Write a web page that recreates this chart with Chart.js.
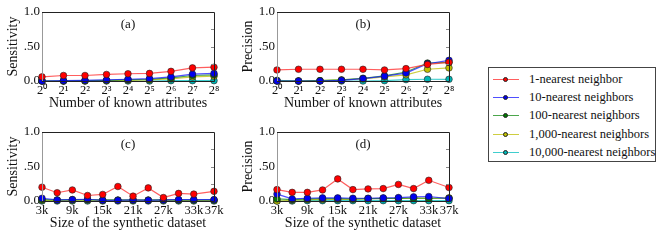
<!DOCTYPE html>
<html>
<head>
<meta charset="utf-8">
<script src="https://cdn.jsdelivr.net/npm/chart.js@4"></script>
<style>
    body { margin: 0; background: #fff; width: 664px; height: 252px; position: relative; overflow: hidden; font-family: "Liberation Serif", serif; }
    .panel { position: absolute; width: 230px; height: 126px; }
    #legend { position: absolute; left: 488px; top: 67px; width: 168px; height: 95px; border: 1px solid #444; box-sizing: border-box; }
    .row { position: absolute; left: 0; height: 18px; width: 166px; }
    .row .ln { position: absolute; left: 4px; top: 8px; width: 26px; height: 1px; }
    .row .dot { position: absolute; left: 14px; top: 6px; width: 5px; height: 5px; border-radius: 50%; box-sizing: border-box; border: 0.6px solid #222; }
    .row .tx { position: absolute; left: 40px; top: 1px; font-size: 12.5px; color: #111; white-space: nowrap; }
</style>
</head>
<body>
<canvas id="chartA" class="panel" style="left:0;top:0"></canvas>
<canvas id="chartB" class="panel" style="left:235px;top:0"></canvas>
<canvas id="chartC" class="panel" style="left:0;top:120px"></canvas>
<canvas id="chartD" class="panel" style="left:235px;top:120px"></canvas>
<div id="legend"></div>

<script>
// x values
const exponents = [0, 1, 2, 3, 4, 5, 6, 7, 8];
const expLabels = ['2⁰', '2¹', '2²', '2³', '2⁴', '2⁵', '2⁶', '2⁷', '2⁸'];
const sizes = [3, 6, 9, 12, 15, 18, 21, 24, 27, 30, 33, 37];
const sizeTicks = [3, 9, 15, 21, 27, 33, 37];
const yTicks = [0, 0.25, 0.5, 0.75, 1];
const yLabels = ['0.0', '.25', '.50', '.75', '1.0'];

// series
const seriesNames = ['1-nearest neighbor', '10-nearest neighbors', '100-nearest neighbors', '1,000-nearest neighbors', '10,000-nearest neighbors'];
const lineColors = ['rgba(255,40,40,0.75)', 'rgba(20,20,255,0.75)', 'rgba(0,128,0,0.7)', 'rgba(190,190,0,0.75)', 'rgba(0,190,190,0.75)'];
const dotColors = ['#ff0000', '#0000ee', '#007a00', '#bfbf00', '#00b5b5'];

// (a) sensitivity vs known attributes
const sensAttr1 = [0.06, 0.08, 0.08, 0.095, 0.105, 0.11, 0.14, 0.19, 0.20];
const sensAttr10 = [0.0, 0.005, 0.01, 0.015, 0.025, 0.035, 0.06, 0.10, 0.11];
const sensAttr100 = [0.0, 0.0, 0.005, 0.01, 0.02, 0.025, 0.045, 0.08, 0.09];
const sensAttr1000 = [0.0, 0.0, 0.0, 0.005, 0.01, 0.015, 0.03, 0.06, 0.07];
const sensAttr10000 = [0.0, 0.0, 0.0, 0.0, 0.0, 0.0, 0.005, 0.005, 0.005];

// (b) precision vs known attributes
const precAttr1 = [0.16, 0.17, 0.17, 0.17, 0.17, 0.16, 0.18, 0.24, 0.27];
const precAttr10 = [0.0, 0.0, 0.0, 0.01, 0.035, 0.07, 0.115, 0.25, 0.30];
const precAttr100 = [0.0, 0.0, 0.005, 0.015, 0.04, 0.075, 0.13, 0.26, 0.27];
const precAttr1000 = [0.0, 0.0, 0.005, 0.015, 0.03, 0.06, 0.09, 0.17, 0.19];
const precAttr10000 = [0.01, 0.0, 0.0, 0.0, 0.0, 0.005, 0.02, 0.025, 0.025];

// (c) sensitivity vs dataset size
const sensSize1 = [0.20, 0.12, 0.16, 0.08, 0.095, 0.21, 0.07, 0.19, 0.05, 0.11, 0.10, 0.14];
const sensSize10 = [0.04, 0.015, 0.02, 0.025, 0.01, 0.01, 0.015, 0.01, 0.015, 0.02, 0.02, 0.02];
const sensSize100 = [0.02, 0.015, 0.02, 0.02, 0.015, 0.015, 0.015, 0.015, 0.015, 0.015, 0.015, 0.015];
const sensSize1000 = [0.01, 0.01, 0.01, 0.012, 0.01, 0.01, 0.01, 0.01, 0.012, 0.01, 0.01, 0.01];
const sensSize10000 = [0.0, 0.0, 0.0, 0.0, 0.0, 0.0, 0.0, 0.0, 0.0, 0.0, 0.0, 0.0];

// (d) precision vs dataset size
const precSize1 = [0.165, 0.125, 0.125, 0.16, 0.32, 0.165, 0.175, 0.18, 0.24, 0.18, 0.30, 0.195];
const precSize10 = [0.10, 0.03, 0.04, 0.045, 0.045, 0.04, 0.04, 0.045, 0.05, 0.06, 0.065, 0.035];
const precSize100 = [0.03, 0.02, 0.03, 0.035, 0.035, 0.03, 0.035, 0.035, 0.04, 0.04, 0.04, 0.04];
const precSize1000 = [0.0, 0.01, 0.02, 0.02, 0.025, 0.025, 0.035, 0.04, 0.035, 0.045, 0.04, 0.045];
const precSize10000 = [0.0, 0.0, 0.005, 0.005, 0.005, 0.005, 0.005, 0.005, 0.005, 0.005, 0.005, 0.005];

const FONT = '"Liberation Serif", "Times New Roman", serif';

// frame, inward ticks and panel tag
const framePlugin = {
    id: 'frame',
    afterDatasetsDraw(chart, args, opts) {
        const { ctx, chartArea: a, scales } = chart;
        ctx.save();
        ctx.lineWidth = 1;
        ctx.strokeStyle = '#999';
        ctx.beginPath();
        ctx.moveTo(Math.round(a.left) + 0.5, a.top);
        ctx.lineTo(Math.round(a.left) + 0.5, a.bottom);
        ctx.stroke();
        ctx.strokeStyle = '#222';
        ctx.beginPath();
        ctx.moveTo(a.left, Math.round(a.top) + 0.5);
        ctx.lineTo(Math.round(a.right) + 0.5, Math.round(a.top) + 0.5);
        ctx.lineTo(Math.round(a.right) + 0.5, Math.round(a.bottom) + 0.5);
        ctx.lineTo(a.left, Math.round(a.bottom) + 0.5);
        ctx.stroke();
        // little inward ticks on the right
        ctx.strokeStyle = '#888';
        yTicks.slice(1, 4).forEach(v => {
            const y = Math.round(scales.y.getPixelForValue(v)) + 0.5;
            ctx.beginPath();
            ctx.moveTo(a.right - 3, y);
            ctx.lineTo(a.right, y);
            ctx.stroke();
        });
        ctx.fillStyle = '#111';
        ctx.font = '13px ' + FONT;
        ctx.textAlign = 'center';
        ctx.textBaseline = 'middle';
        ctx.fillText(opts.tag, (a.left + a.right) / 2, a.top + 13);
        ctx.restore();
    }
};

function buildDatasets(xs, ys) {
    return ys.map((vals, i) => ({
        label: seriesNames[i],
        data: xs.map((x, j) => ({ x: x, y: vals[j] })),
        borderColor: lineColors[i],
        backgroundColor: dotColors[i],
        pointBorderColor: '#222',
        pointBorderWidth: 0.6,
        pointRadius: 3.3,
        borderWidth: 1.2,
        clip: false,
        tension: 0
    }));
}

function makePanel(id, xs, ys, xTicks, xLabel, xTitle, yTitle, tag) {
    new Chart(document.getElementById(id), {
        type: 'line',
        data: { datasets: buildDatasets(xs, ys) },
        plugins: [framePlugin],
        options: {
            responsive: false,
            animation: false,
            events: [],
            layout: { padding: { top: 12, right: 16, left: 0, bottom: 0 } },
            plugins: { legend: { display: false }, tooltip: { enabled: false }, frame: { tag: tag } },
            scales: {
                x: {
                    type: 'linear',
                    min: xTicks[0],
                    max: xTicks[xTicks.length - 1],
                    afterBuildTicks: s => { s.ticks = xTicks.map(v => ({ value: v })); },
                    afterFit: s => { s.height = 34; },
                    grid: { display: false, drawTicks: false },
                    border: { display: false },
                    ticks: { padding: 2, color: '#111', font: { family: FONT, size: 12.5 }, maxRotation: 0, autoSkip: false, callback: xLabel },
                    title: { display: true, text: xTitle, color: '#111', font: { family: FONT, size: 14 }, padding: { top: 0, bottom: 3 } }
                },
                y: {
                    min: 0,
                    max: 1,
                    afterBuildTicks: s => { s.ticks = yTicks.map(v => ({ value: v })); },
                    afterFit: s => { s.width = 42; },
                    grid: { display: false, drawTicks: false },
                    border: { display: false },
                    ticks: { padding: 2, color: '#111', font: { family: FONT, size: 13 }, callback: v => yLabels[yTicks.indexOf(v)] },
                    title: { display: true, text: yTitle, color: '#111', font: { family: FONT, size: 14 }, padding: { top: 5, bottom: 0 } }
                }
            }
        }
    });
}

const expLabel = v => expLabels[exponents.indexOf(v)];
const sizeLabel = v => v + 'k';

makePanel('chartA', exponents, [sensAttr1, sensAttr10, sensAttr100, sensAttr1000, sensAttr10000],
    exponents, expLabel, 'Number of known attributes', 'Sensitivity', '(a)');
makePanel('chartB', exponents, [precAttr1, precAttr10, precAttr100, precAttr1000, precAttr10000],
    exponents, expLabel, 'Number of known attributes', 'Precision', '(b)');
makePanel('chartC', sizes, [sensSize1, sensSize10, sensSize100, sensSize1000, sensSize10000],
    sizeTicks, sizeLabel, 'Size of the synthetic dataset', 'Sensitivity', '(c)');
makePanel('chartD', sizes, [precSize1, precSize10, precSize100, precSize1000, precSize10000],
    sizeTicks, sizeLabel, 'Size of the synthetic dataset', 'Precision', '(d)');

// legend box
const legend = document.getElementById('legend');
seriesNames.forEach((name, i) => {
    const row = document.createElement('div');
    row.className = 'row';
    row.style.top = (3 + i * 18.2) + 'px';
    row.innerHTML = `<span class="ln" style="background:${lineColors[i]}"></span>` +
        `<span class="dot" style="background:${dotColors[i]}"></span>` +
        `<span class="tx">${name}</span>`;
    legend.appendChild(row);
});
</script>
</body>
</html>
